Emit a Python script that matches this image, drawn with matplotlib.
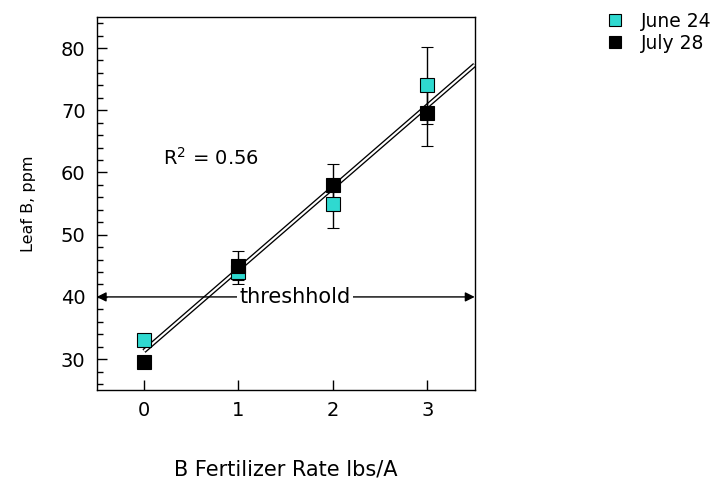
import numpy as np
import matplotlib
matplotlib.use("Agg")
from matplotlib import pyplot as plt
from matplotlib.ticker import MultipleLocator

# data
rate = [0, 1, 2, 3]
june = [33.0, 44.0, 55.0, 74.0]
june_err = [0.0, 2.0, 3.9, 6.2]
july = [29.5, 45.0, 58.0, 69.5]
july_err = [0.0, 2.3, 3.3, 5.2]
fit_x = [0.0, 3.5]
fit_y = [31.3, 77.3]
threshold = 40
r2_text = "R$^2$ = 0.56"

cyan = '#2fd9d0'

fig = plt.figure(figsize=(7.27, 4.83), dpi=100)
ax = fig.add_axes([0.133, 0.192, 0.520, 0.773])

# regression line drawn as a double line
ax.plot(fit_x, fit_y, color='k', lw=3.4, solid_capstyle='butt', zorder=2)
ax.plot(fit_x, fit_y, color='w', lw=1.5, solid_capstyle='butt', zorder=2.1)

ax.errorbar(rate, june, yerr=june_err, fmt='s', ms=10, mfc=cyan, mec='k', mew=0.8,
            ecolor='k', elinewidth=1, capsize=4, label='June 24', zorder=3)
ax.errorbar(rate, july, yerr=july_err, fmt='s', ms=10, mfc='k', mec='k', mew=0.8,
            ecolor='k', elinewidth=1, capsize=4, label='July 28', zorder=3)

ax.set_xlim(-0.5, 3.5)
ax.set_ylim(25, 85)

# threshold arrow
ax.annotate('', xy=(-0.5, threshold), xytext=(3.5, threshold),
            arrowprops=dict(arrowstyle='<|-|>', color='k', lw=1,
                            mutation_scale=14, shrinkA=0, shrinkB=0), zorder=4)
ax.text(1.6, threshold, 'threshhold', ha='center', va='center', fontsize=15,
        bbox=dict(facecolor='w', edgecolor='none', pad=1.5), zorder=5)

ax.text(0.2, 62.3, r2_text, ha='left', va='center', fontsize=14)

ax.xaxis.set_major_locator(MultipleLocator(1))
ax.yaxis.set_major_locator(MultipleLocator(10))
ax.yaxis.set_minor_locator(MultipleLocator(2))
ax.tick_params(axis='both', which='major', direction='in', length=7, width=1,
               labelsize=14, pad=8)
ax.tick_params(axis='y', which='minor', direction='in', length=4, width=1)
ax.tick_params(axis='x', which='minor', bottom=False)
for s in ax.spines.values():
    s.set_linewidth(1)

ax.set_xlabel('B Fertilizer Rate lbs/A', fontsize=15, labelpad=28)
ax.set_ylabel('Leaf B, ppm', fontsize=11.5, labelpad=18)

handles, labels = ax.get_legend_handles_labels()
handles = [h[0] for h in handles]
fig.legend(handles, labels, loc='upper left', bbox_to_anchor=(0.81, 1.01),
           frameon=False, fontsize=13.5, handletextpad=0.9, labelspacing=0.15,
           handlelength=1.0, markerscale=0.85)

fig.savefig('out.png', dpi=100)
